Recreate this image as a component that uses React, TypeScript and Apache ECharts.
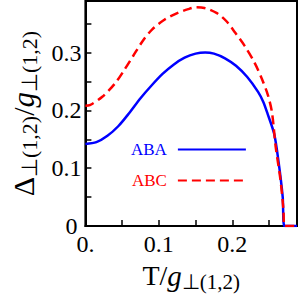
import React, { useEffect, useRef } from "react";
import * as echarts from "echarts";

const abaT = [0, 0.015, 0.03, 0.045, 0.06, 0.075, 0.09, 0.105, 0.12, 0.135, 0.15, 0.163, 0.175, 0.19, 0.205, 0.22, 0.235, 0.242, 0.248, 0.257, 0.263, 0.2685, 0.271, 0.288];
const abaV = [0.142, 0.145, 0.156, 0.173, 0.196, 0.221, 0.243, 0.263, 0.279, 0.291, 0.298, 0.3, 0.298, 0.29, 0.277, 0.258, 0.232, 0.215, 0.194, 0.159, 0.11, 0.051, 0, 0];

const abcT = [0, 0.006, 0.023, 0.04, 0.0525, 0.065, 0.078, 0.091, 0.108, 0.125, 0.14, 0.15, 0.162, 0.179, 0.192, 0.204, 0.217, 0.23, 0.24, 0.2485, 0.254, 0.259, 0.2655, 0.2695, 0.271, 0.288];
const abcV = [0.208, 0.209, 0.2235, 0.246, 0.269, 0.294, 0.32, 0.34, 0.357, 0.368, 0.375, 0.378, 0.377, 0.368, 0.354, 0.334, 0.311, 0.283, 0.255, 0.226, 0.196, 0.137, 0.08, 0.029, 0, 0];

const seriesNames = ["ABA", "ABC"];
const xTickLabels: Record<string, string> = { "0": "0.", "0.1": "0.1", "0.2": "0.2" };
const yTickLabels: Record<string, string> = { "0": "0", "0.1": "0.1", "0.2": "0.2", "0.3": "0.3" };

const FONT = "Liberation Serif";

export default function App() {
  const ref = useRef<HTMLDivElement>(null);
  useEffect(() => {
    if (!ref.current) return;
    const chart = echarts.init(ref.current, undefined, { renderer: "svg" });
    const key = (v: number) => String(Math.round(v * 100) / 100);
    const tickRich = {
      t: { fontFamily: FONT, fontSize: 24, color: "#000" },
      z: { fontFamily: FONT, fontSize: 24, color: "#000", padding: [0, 4, 0, 0] },
    };
    chart.setOption({
      animation: false,
      textStyle: { fontFamily: FONT },
      grid: { left: 70, right: 3, top: 1, bottom: 67.5, show: true, borderColor: "#000", borderWidth: 2, backgroundColor: "transparent" },
      legend: {
        orient: "vertical",
        left: 126,
        top: 136,
        align: "right",
        itemWidth: 68,
        itemHeight: 14,
        itemGap: 14,
        itemStyle: { opacity: 0 },
        data: seriesNames,
        formatter: (name: string) => (name === seriesNames[0] ? `{b|${name}}` : `{r|${name}}`),
        textStyle: {
          fontFamily: FONT,
          fontSize: 17,
          padding: [0, 6, 0, 0],
          rich: {
            b: { fontFamily: FONT, fontSize: 17, color: "#0000ff" },
            r: { fontFamily: FONT, fontSize: 17, color: "#ff0000" },
          },
        },
      },
      xAxis: {
        type: "value",
        min: 0,
        max: 0.288,
        interval: 0.05,
        axisLine: { lineStyle: { color: "#000", width: 2 } },
        axisTick: { inside: true, length: 6, lineStyle: { color: "#000", width: 1.5 } },
        splitLine: { show: false },
        axisLabel: {
          color: "#000",
          fontFamily: FONT,
          fontSize: 24,
          margin: 6,
          showMaxLabel: false,
          rich: tickRich,
          formatter: (v: number) => (xTickLabels[key(v)] ? `{t|${xTickLabels[key(v)]}}` : ""),
        },
        name: "{m|T/}{i|g}{s|⊥(1,2)}",
        nameLocation: "middle",
        nameGap: 32,
        nameTextStyle: {
          color: "#000",
          fontFamily: FONT,
          rich: {
            m: { fontFamily: FONT, fontSize: 28, color: "#000" },
            i: { fontFamily: FONT, fontSize: 29, fontStyle: "italic", color: "#000" },
            s: { fontFamily: FONT, fontSize: 21, color: "#000", padding: [12, 0, 0, 0] },
          },
        },
      },
      yAxis: {
        type: "value",
        min: 0,
        max: 0.389,
        interval: 0.05,
        axisLine: { lineStyle: { color: "#000", width: 2 } },
        axisTick: { inside: true, length: 6, lineStyle: { color: "#000", width: 1.5 } },
        splitLine: { show: false },
        axisLabel: {
          color: "#000",
          fontFamily: FONT,
          fontSize: 24,
          margin: 4,
          showMaxLabel: false,
          rich: tickRich,
          formatter: (v: number) => {
            const s = yTickLabels[key(v)];
            if (!s) return "";
            return s === "0" ? `{z|${s}}` : `{t|${s}}`;
          },
        },
        name: "{d|Δ}{s|⊥(1,2)}{m|/}{i|g}{s|⊥(1,2)}",
        nameLocation: "middle",
        nameGap: 33,
        nameTextStyle: {
          color: "#000",
          fontFamily: FONT,
          rich: {
            d: { fontFamily: FONT, fontSize: 30, color: "#000" },
            m: { fontFamily: FONT, fontSize: 30, color: "#000" },
            i: { fontFamily: FONT, fontSize: 31, fontStyle: "italic", color: "#000" },
            s: { fontFamily: FONT, fontSize: 22, color: "#000", padding: [12, 0, 0, 0] },
          },
        },
      },
      series: [
        {
          name: seriesNames[0],
          type: "line",
          data: abaT.map((t, i) => [t, abaV[i]]),
          showSymbol: false,
          symbol: "none",
          smooth: 0.3,
          lineStyle: { color: "#0000ff", width: 2.5 },
          itemStyle: { color: "#0000ff" },
        },
        {
          name: seriesNames[1],
          type: "line",
          data: abcT.map((t, i) => [t, abcV[i]]),
          showSymbol: false,
          symbol: "none",
          smooth: 0.3,
          lineStyle: { color: "#ff0000", width: 2.5, type: [9, 5] },
          itemStyle: { color: "#ff0000" },
        },
      ],
    });
    return () => chart.dispose();
  }, []);
  return <div ref={ref} style={{ width: 300, height: 297, position: "absolute", left: 0, top: 0 }} />;
}
